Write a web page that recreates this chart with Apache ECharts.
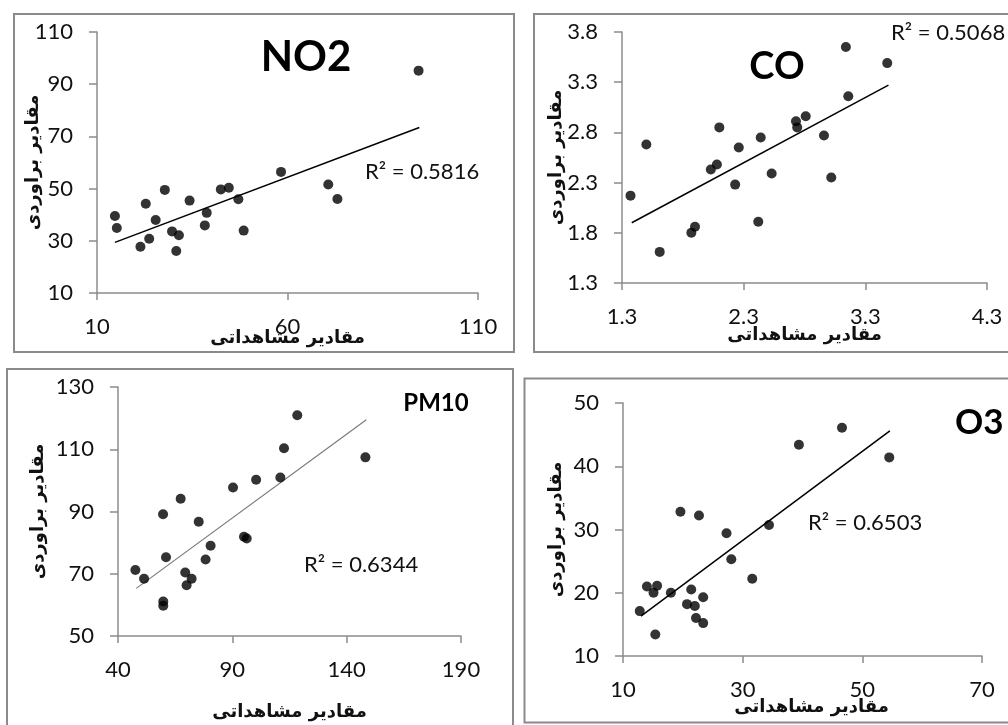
<!DOCTYPE html>
<html>
<head>
<meta charset="utf-8">
<script src="https://cdn.jsdelivr.net/npm/echarts@6/dist/echarts.min.js"></script>
<style>
html,body{margin:0;padding:0;background:#fff;}
#c{width:1008px;height:725px;}
</style>
</head>
<body>
<div id="c"></div>
<script>
// ---- Data ----
const no2Obs = [14.7,15.2,22.8,25.4,23.7,21.4,27.8,29.7,31.5,30.8,34.3,38.3,38.8,42.5,44.6,47.1,48.5,58.3,70.7,73.1,94.4];
const no2Est = [39.5,34.9,44.2,38.0,30.8,27.7,49.5,33.6,32.1,26.1,45.4,35.9,40.7,49.7,50.3,45.9,33.9,56.4,51.6,46.0,95.2];
const no2TrendX = [14.7, 94.6];
const no2TrendY = [29.4, 73.4];

const coObs = [1.37,1.50,1.61,1.87,1.90,2.03,2.08,2.10,2.23,2.26,2.42,2.44,2.53,2.73,2.74,2.81,2.96,3.02,3.14,3.16,3.48];
const coEst = [2.17,2.68,1.61,1.80,1.86,2.43,2.48,2.85,2.28,2.65,1.91,2.75,2.39,2.91,2.85,2.96,2.77,2.35,3.65,3.16,3.49];
const coTrendX = [1.38, 3.49];
const coTrendY = [1.90, 3.27];

const pmObs = [47.6,51.4,59.7,61.0,59.8,59.8,67.4,69.4,70.0,72.2,75.3,78.3,80.5,90.3,95.1,96.3,100.4,111.0,112.6,118.4,148.2];
const pmEst = [71.2,68.4,89.1,75.3,61.1,59.7,94.1,70.4,66.3,68.4,86.7,74.6,79.0,97.7,81.9,81.3,100.2,100.9,110.3,120.9,107.4];
const pmTrendX = [48.0, 148.6];
const pmTrendY = [65.3, 119.5];

const o3Obs = [12.8,14.0,15.1,15.7,15.4,18.0,19.6,20.7,21.4,22.0,22.2,22.7,23.4,23.4,27.3,28.1,31.6,34.4,39.4,46.6,54.5];
const o3Est = [17.1,21.0,20.0,21.1,13.4,20.0,32.8,18.2,20.5,17.9,16.0,32.2,19.3,15.2,29.4,25.3,22.2,30.7,43.4,46.1,41.4];
const o3TrendX = [13.0, 54.6];
const o3TrendY = [16.3, 45.6];

const panelTitles = ['NO2', 'CO', 'PM10', 'O3'];
const r2Labels = ['R² = 0.5816', 'R² = 0.5068', 'R² = 0.6344', 'R² = 0.6503'];
const xAxisTitle = 'مقادیر مشاهداتی';
const yAxisTitle = 'مقادیر براوردی';

// axis ranges [min, max, interval]
const xRanges = [[10,110,50],[1.3,4.3,1],[40,190,50],[10,70,20]];
const yRanges = [[10,110,20],[1.3,3.8,0.5],[50,130,20],[10,50,10]];

// ---- Layout ----
const grids = [
  {left: 97,  top: 32,  width: 381, height: 261},
  {left: 622, top: 32,  width: 365, height: 251},
  {left: 118, top: 387, width: 343, height: 249},
  {left: 623, top: 403, width: 359, height: 253}
];
const yNameGaps = [55, 57, 71, 58];
const xNameGaps = [36, 43, 67, 42];
const xNamePad = [[0,0,0,0],[0,0,0,0],[0,0,0,0],[0,0,0,18]];

const LAT = 'Lato, "Open Sans", sans-serif';
const AR = '"DejaVu Sans", sans-serif';
const axisColor = '#8c8c8c';

function zip(a, b){ return a.map((v,i)=>[v, b[i]]); }

const scatterSets = [zip(no2Obs,no2Est), zip(coObs,coEst), zip(pmObs,pmEst), zip(o3Obs,o3Est)];
const trendSets = [zip(no2TrendX,no2TrendY), zip(coTrendX,coTrendY), zip(pmTrendX,pmTrendY), zip(o3TrendX,o3TrendY)];
const trendColors = ['#000','#000','#7a7a7a','#000'];
const trendWidths = [1.5,1.5,1.2,1.5];

const xAxes = [], yAxes = [], series = [];
for (let i = 0; i < 4; i++) {
  const dec = i === 1 ? 1 : 0;
  xAxes.push({
    gridIndex: i, type: 'value',
    min: xRanges[i][0], max: xRanges[i][1], interval: xRanges[i][2],
    splitLine: {show: false},
    axisLine: {show: true, onZero: false, lineStyle: {color: axisColor, width: 1.5}},
    axisTick: {show: true, inside: false, length: 7, lineStyle: {color: axisColor, width: 1.5}},
    axisLabel: {color: '#111', fontFamily: LAT, fontSize: 22, margin: 23,
      formatter: v => v.toFixed(dec)},
    name: xAxisTitle, nameLocation: 'middle', nameGap: xNameGaps[i], nameMoveOverlap: false,
    nameTextStyle: {fontFamily: AR, fontWeight: 'bold', fontSize: 18, color: '#111', padding: xNamePad[i]}
  });
  yAxes.push({
    gridIndex: i, type: 'value',
    min: yRanges[i][0], max: yRanges[i][1], interval: yRanges[i][2],
    splitLine: {show: false},
    axisLine: {show: true, onZero: false, lineStyle: {color: axisColor, width: 1.5}},
    axisTick: {show: true, inside: false, length: 8, lineStyle: {color: axisColor, width: 1.5}},
    axisLabel: {color: '#111', fontFamily: LAT, fontSize: 22, margin: 24,
      formatter: v => v.toFixed(dec)},
    name: yAxisTitle, nameLocation: 'middle', nameGap: yNameGaps[i], nameRotate: 90, nameMoveOverlap: false,
    nameTextStyle: {fontFamily: AR, fontWeight: 'bold', fontSize: 18, color: '#111'}
  });
  series.push({
    type: 'scatter', xAxisIndex: i, yAxisIndex: i,
    data: scatterSets[i], symbolSize: 10,
    itemStyle: {color: '#000'}, silent: true, z: 3
  });
  series.push({
    type: 'line', xAxisIndex: i, yAxisIndex: i,
    data: trendSets[i], showSymbol: false, symbol: 'none',
    lineStyle: {color: trendColors[i], width: trendWidths[i]}, silent: true, z: 2
  });
}

const borderStyle = {stroke: '#8a8a8a', lineWidth: 2, fill: 'none'};
const graphics = [
  {type: 'rect', shape: {x: 14, y: 14, width: 500, height: 338}, style: borderStyle, silent: true},
  {type: 'rect', shape: {x: 534, y: 14, width: 500, height: 338}, style: borderStyle, silent: true},
  {type: 'rect', shape: {x: 7, y: 369, width: 506, height: 400}, style: borderStyle, silent: true},
  {type: 'rect', shape: {x: 524.5, y: 378.5, width: 500, height: 344}, style: borderStyle, silent: true},
  // panel titles
  {type: 'text', x: 306, y: 57, style: {text: panelTitles[0], font: 'bold 42px ' + LAT, fill: '#000', align: 'center', verticalAlign: 'middle'}},
  {type: 'text', x: 777, y: 67, style: {text: panelTitles[1], font: 'bold 38px ' + LAT, fill: '#000', align: 'center', verticalAlign: 'middle'}},
  {type: 'text', x: 436, y: 403, style: {text: panelTitles[2], font: 'bold 24px ' + LAT, fill: '#000', align: 'center', verticalAlign: 'middle'}},
  {type: 'text', x: 955, y: 423, style: {text: panelTitles[3], font: 'bold 35px ' + LAT, fill: '#000', align: 'left', verticalAlign: 'middle'}},
  // R² annotations
  {type: 'text', x: 365, y: 172, style: {text: r2Labels[0], font: '22px ' + LAT, fill: '#111', align: 'left', verticalAlign: 'middle'}},
  {type: 'text', x: 891, y: 33, style: {text: r2Labels[1], font: '22px ' + LAT, fill: '#111', align: 'left', verticalAlign: 'middle'}},
  {type: 'text', x: 304, y: 565, style: {text: r2Labels[2], font: '22px ' + LAT, fill: '#111', align: 'left', verticalAlign: 'middle'}},
  {type: 'text', x: 808, y: 523, style: {text: r2Labels[3], font: '22px ' + LAT, fill: '#111', align: 'left', verticalAlign: 'middle'}}
];

const chart = echarts.init(document.getElementById('c'), null, {renderer: 'canvas'});
chart.setOption({
  animation: false,
  backgroundColor: '#fff',
  grid: grids,
  xAxis: xAxes,
  yAxis: yAxes,
  series: series,
  graphic: graphics
});
</script>
</body>
</html>
